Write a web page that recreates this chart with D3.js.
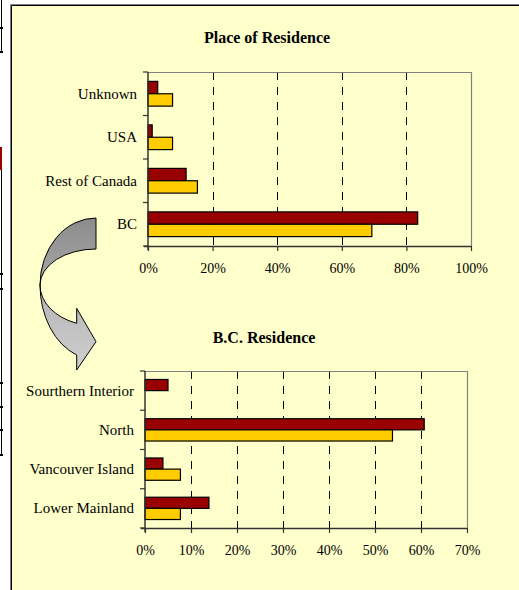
<!DOCTYPE html>
<html>
<head>
<meta charset="utf-8">
<script src="https://cdn.jsdelivr.net/npm/d3@7"></script>
<style>
  body { margin: 0; background: #fff; }
  svg { display: block; }
  text { font-family: "Liberation Serif", "Times New Roman", serif; fill: #000; }
</style>
</head>
<body>
<div id="chart"></div>
<script>
// data
const residenceCats = ["Unknown", "USA", "Rest of Canada", "BC"];
const residenceRed = [3.0, 1.3, 11.8, 83.5];
const residenceYellow = [7.6, 7.6, 15.3, 69.3];
const residenceTicks = [0, 20, 40, 60, 80, 100];

const bcCats = ["Sourthern Interior", "North", "Vancouver Island", "Lower Mainland"];
const bcRed = [5.0, 60.7, 3.9, 13.9];
const bcYellow = [0, 53.8, 7.7, 7.7];
const bcTicks = [0, 10, 20, 30, 40, 50, 60, 70];

const seriesNames = ["red", "yellow"];
const seriesColor = {red: "#990000", yellow: "#FFCC00"};

const width = 519, height = 590;

const svg = d3.select("#chart")
    .append("svg")
        .attr("width", width)
        .attr("height", height);

// bits of the page table showing at the left edge
const edge = svg.append("g").attr("stroke", "#000").attr("stroke-width", 1.5).attr("shape-rendering", "crispEdges");
edge.append("line").attr("x1", 1.5).attr("x2", 1.5).attr("y1", 0).attr("y2", 52);
edge.append("line").attr("x1", 1.5).attr("x2", 1.5).attr("y1", 147).attr("y2", 455);
[28, 52, 274, 289, 383, 407, 430, 455].forEach(yy => {
    edge.append("line").attr("x1", 0).attr("x2", 3).attr("y1", yy).attr("y2", yy);
});
svg.append("rect").attr("x", 0).attr("y", 147).attr("width", 2).attr("height", 23).attr("fill", "#990000");

// yellow panel
svg.append("rect").attr("x", 10).attr("y", 4).attr("width", width).attr("height", height)
    .attr("fill", "#FFFFCC");
svg.append("path").attr("d", `M10.5,${height} V4.5 H${width}`).attr("fill", "none").attr("stroke", "#808080");
svg.append("path").attr("d", `M11.5,${height} V5.5 H${width}`).attr("fill", "none").attr("stroke", "#000");

function drawChart(cfg) {
    const g = svg.append("g");

    const x = d3.scaleLinear()
        .domain([0, cfg.max])
        .range([cfg.left, cfg.right]);

    const y = d3.scaleBand()
        .domain(cfg.cats)
        .range([cfg.top, cfg.bottom]);

    const inner = d3.scaleBand()
        .domain(seriesNames)
        .range([0, y.bandwidth()])
        .paddingOuter(0.76);

    // title
    g.append("text")
        .attr("x", cfg.titleX)
        .attr("y", cfg.titleY)
        .attr("text-anchor", "middle")
        .style("font-size", "16px")
        .style("font-weight", "bold")
        .text(cfg.title);

    // dashed gridlines
    g.append("g")
        .selectAll("line")
        .data(cfg.ticks.filter(t => t > 0 && t < cfg.max))
        .enter().append("line")
            .attr("x1", d => Math.round(x(d)) + 0.5)
            .attr("x2", d => Math.round(x(d)) + 0.5)
            .attr("y1", cfg.top)
            .attr("y2", cfg.bottom)
            .attr("stroke", "#000")
            .attr("stroke-dasharray", "8,7");

    // plot frame (top + right)
    g.append("path")
        .attr("d", `M${cfg.left},${cfg.top + 0.5} H${cfg.right + 0.5} V${cfg.bottom}`)
        .attr("fill", "none")
        .attr("stroke", "#808080")
        .attr("stroke-width", 1.2);

    // bars
    const rows = [];
    cfg.cats.forEach((c, i) => {
        rows.push({cat: c, s: "red", v: cfg.red[i]});
        rows.push({cat: c, s: "yellow", v: cfg.yellow[i]});
    });
    g.append("g")
        .selectAll("rect")
        .data(rows.filter(d => d.v > 0))
        .enter().append("rect")
            .attr("x", x(0))
            .attr("y", d => y(d.cat) + inner(d.s))
            .attr("width", d => x(d.v) - x(0))
            .attr("height", inner.bandwidth())
            .attr("fill", d => seriesColor[d.s])
            .attr("stroke", "#000")
            .attr("stroke-width", 1.2);

    // category axis: ticks sit on the band edges
    const yAxis = g.append("g").attr("stroke", "#333");
    yAxis.append("line")
        .attr("x1", cfg.left).attr("x2", cfg.left)
        .attr("y1", cfg.top).attr("y2", cfg.bottom + 4)
        .attr("stroke-width", 1.5);
    yAxis.selectAll(".tk")
        .data(cfg.cats.map(c => y(c)).concat([cfg.bottom]))
        .enter().append("line")
            .attr("x1", cfg.left - 5).attr("x2", cfg.left)
            .attr("y1", d => d).attr("y2", d => d)
            .attr("stroke-width", 1.2);
    g.append("g")
        .selectAll("text")
        .data(cfg.cats)
        .enter().append("text")
            .attr("x", cfg.left - 11)
            .attr("y", d => y(d) + y.bandwidth() / 2 + 5)
            .attr("text-anchor", "end")
            .style("font-size", "15px")
            .text(d => d);

    // value axis
    const xAxis = g.append("g")
        .attr("transform", `translate(0,${cfg.bottom})`)
        .call(d3.axisBottom(x)
            .tickValues(cfg.ticks)
            .tickSize(5)
            .tickPadding(12)
            .tickFormat(d => d + "%"));
    xAxis.select(".domain").attr("stroke", "#333").attr("stroke-width", 1.5)
        .attr("d", `M${cfg.left - 4},0.5H${cfg.right}`);
    xAxis.selectAll(".tick line").attr("stroke", "#333").attr("stroke-width", 1.2);
    xAxis.selectAll(".tick text")
        .style("font-family", "'Liberation Serif', 'Times New Roman', serif")
        .style("font-size", "14px")
        .attr("fill", "#000");
}

drawChart({
    title: "Place of Residence", titleX: 267, titleY: 43,
    cats: residenceCats, red: residenceRed, yellow: residenceYellow,
    ticks: residenceTicks, max: 100,
    left: 148, right: 471, top: 72, bottom: 246
});

drawChart({
    title: "B.C. Residence", titleX: 264, titleY: 343,
    cats: bcCats, red: bcRed, yellow: bcYellow,
    ticks: bcTicks, max: 70,
    left: 145, right: 467, top: 371, bottom: 528
});

// curved arrow between the two charts
const defs = svg.append("defs");
const gDark = defs.append("linearGradient").attr("id", "arrowDark")
    .attr("x1", 0).attr("y1", 0).attr("x2", 0).attr("y2", 1);
gDark.append("stop").attr("offset", "0%").attr("stop-color", "#8c8c8c");
gDark.append("stop").attr("offset", "100%").attr("stop-color", "#a8a8a8");
const gLight = defs.append("linearGradient").attr("id", "arrowLight")
    .attr("x1", 0).attr("y1", 0).attr("x2", 0).attr("y2", 1);
gLight.append("stop").attr("offset", "0%").attr("stop-color", "#b4b4b4");
gLight.append("stop").attr("offset", "100%").attr("stop-color", "#cfcfcf");

svg.append("path")
    .attr("d", "M96,218 A56,67 0 0 0 40,285 A56,36 0 0 1 96,249 Z")
    .attr("fill", "url(#arrowDark)")
    .attr("stroke", "#000")
    .attr("stroke-width", 1);
svg.append("path")
    .attr("d", "M40,285 A56,74.6 0 0 0 76.7,355 L76.7,370 L96,341.7 L76.7,308.3 L76.7,323.3 A56,40.8 0 0 1 40,285 Z")
    .attr("fill", "url(#arrowLight)")
    .attr("stroke", "#000")
    .attr("stroke-width", 1);
</script>
</body>
</html>
